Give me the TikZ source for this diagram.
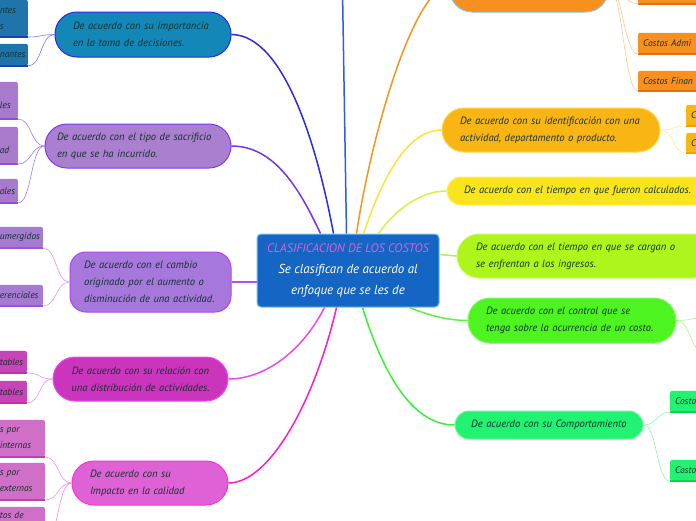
\documentclass[tikz,border=0pt]{standalone}
\usepackage{fontspec}
\setmainfont{PT Sans}
\usetikzlibrary{calc}
\definecolor{ink}{HTML}{12332A}
\definecolor{cRoot}{HTML}{1565C4}
\definecolor{cRootL}{HTML}{78C0F0}
\definecolor{cTitle}{HTML}{E060D0}
\definecolor{cTeal}{HTML}{1287B8}
\definecolor{cTealL}{HTML}{2A2AE8}
\definecolor{cTealLf}{HTML}{1F74AC}
\definecolor{cTealU}{HTML}{1F3FAA}
\definecolor{cSacr}{HTML}{AB7FCF}
\definecolor{cSacrL}{HTML}{7A3CF0}
\definecolor{cSacrLf}{HTML}{A87ACB}
\definecolor{cSacrU}{HTML}{8E50D0}
\definecolor{cCamb}{HTML}{A678DC}
\definecolor{cCambL}{HTML}{B440F0}
\definecolor{cCambLf}{HTML}{A57BD2}
\definecolor{cCambU}{HTML}{A050E0}
\definecolor{cRel}{HTML}{CB35BD}
\definecolor{cRelL}{HTML}{F048F0}
\definecolor{cRelLf}{HTML}{C744B9}
\definecolor{cRelU}{HTML}{C030B0}
\definecolor{cCal}{HTML}{DE62D6}
\definecolor{cCalL}{HTML}{FF30D0}
\definecolor{cCalLf}{HTML}{D06FC8}
\definecolor{cCalU}{HTML}{C040B0}
\definecolor{cFunc}{HTML}{F7901E}
\definecolor{cFuncL}{HTML}{7EC8EE}
\definecolor{cFuncU}{HTML}{E07010}
\definecolor{cIdf}{HTML}{F9B514}
\definecolor{cIdfL}{HTML}{FFD84A}
\definecolor{cIdfU}{HTML}{F0A000}
\definecolor{cTime}{HTML}{FAE51C}
\definecolor{cTimeL}{HTML}{FFF060}
\definecolor{cIng}{HTML}{AEF51C}
\definecolor{cIngL}{HTML}{C8FA70}
\definecolor{cCtrl}{HTML}{4DF41F}
\definecolor{cCtrlL}{HTML}{80F860}
\definecolor{cComp}{HTML}{22F272}
\definecolor{cCompL}{HTML}{70F8A0}
\definecolor{cCompU}{HTML}{10D050}
% connector colours
\definecolor{lTop}{HTML}{2E5BF0}
\definecolor{lTeal}{HTML}{2B2BE6}
\definecolor{lSacr}{HTML}{7A33EA}
\definecolor{lFunc}{HTML}{F7941D}
\definecolor{lIdf}{HTML}{FFE13A}
\definecolor{lTime}{HTML}{D6F046}
\definecolor{lIng}{HTML}{B2F048}
\definecolor{lCtrl}{HTML}{60F040}
\definecolor{lComp}{HTML}{3CEE3C}
\definecolor{lCal}{HTML}{FF1AC8}
\definecolor{lRel}{HTML}{EE48EE}
\definecolor{lCamb}{HTML}{B850F0}
\definecolor{tTeal}{HTML}{7C7CF2}
\definecolor{tSacr}{HTML}{A07CF2}
\definecolor{tCamb}{HTML}{D39CF5}
\definecolor{tRel}{HTML}{F58CF5}
\definecolor{tCal}{HTML}{FF88E0}
\definecolor{tFunc}{HTML}{FFC890}
\definecolor{tIdf}{HTML}{FFE890}
\definecolor{tCtrl}{HTML}{A8F890}
\definecolor{tComp}{HTML}{90F8A8}

\begin{document}
\begin{tikzpicture}[
  x=1pt, y=-1pt,
  branch/.style={
    rounded corners=22pt, draw, line width=1pt, align=left,
    inner xsep=18pt, inner ysep=0pt, text=ink, fill=#1,
    font=\fontsize{10.6}{17}\selectfont\itshape,
  },
  leaf/.style={rounded corners=2pt, inner sep=3pt, align=left, text=ink, fill=#1,
               font=\fontsize{9.5}{16}\selectfont\itshape},
  link/.style={line width=1.5pt, color=#1},
  twig/.style={line width=0.6pt, color=#1},
  under/.style={line width=1.2pt, color=#1},
]
  \useasboundingbox (0,0) rectangle (696,520);
  \fill[white] (0,0) rectangle (696,520);

  % --- centre ---
  \node[draw=cRootL, fill=cRoot, line width=1pt, rounded corners=4pt,
        minimum width=182pt, minimum height=73pt, inner sep=0pt, align=center,
        font=\fontsize{13}{21}\selectfont\itshape] (root) at (348,270.5)
    {{\fontsize{12.3}{21}\selectfont\textcolor{cTitle}{CLASIFICACION DE LOS COSTOS}}\\
     \textcolor{white}{Se clasifican de acuerdo al}\\
     \textcolor{white}{enfoque que se les de}};

  % --- left branches ---
  \node[branch=cTeal, draw=cTealL, text width=140pt, minimum height=45pt] (teal) at (143,34.5)
    {De acuerdo con su Importancia\\en la toma de decisiones.};
  \node[branch=cSacr, draw=cSacrL, text width=162pt, inner xsep=12pt, minimum height=44pt] (sacr) at (138,146)
    {De acuerdo con el tipo de sacrificio\\en que se ha incurrido.};
  \node[branch=cCamb, draw=cCambL, rounded corners=16pt, text width=133pt, inner xsep=14pt,
        minimum height=60pt] (camb) at (150.5,282)
    {De acuerdo con el cambio\\originado por el aumento o\\disminución de una actividad.};
  \node[branch=cRel, draw=cRelL, text width=145pt, inner xsep=15pt, align=center, minimum height=44pt] (rel) at (140.5,379)
    {De acuerdo con su relación con\\una distribución de actividades.};
  \node[branch=cCal, draw=cCalL, text width=120pt, minimum height=44pt] (cal) at (150,483)
    {De acuerdo con su\\Impacto en la calidad};

  % --- right branches ---
  \node[branch=cFunc, draw=cFuncL, minimum width=158pt, minimum height=52pt] (func) at (529,-14) {};
  \node[branch=cIdf, draw=cIdfL, text width=182pt, minimum height=44pt] (idf) at (551,130)
    {De acuerdo con su identificación con una\\actividad, departamento o producto.};
  \node[branch=cTime, draw=cTimeL, rounded corners=14pt, text width=236pt, inner xsep=17pt,
        minimum height=28pt] (time) at (582,191)
    {De acuerdo con el tiempo en que fueron calculados.};
  \node[branch=cIng, draw=cIngL, text width=220pt, inner xsep=19pt, minimum height=44pt] (ing) at (586,256)
    {De acuerdo con el tiempo en que se cargan o\\se enfrentan a los ingresos.};
  \node[branch=cCtrl, draw=cCtrlL, text width=172pt, minimum height=45pt] (ctrl) at (572,320.5)
    {De acuerdo con el control que se\\tenga sobre la ocurrencia de un costo.};
  \node[branch=cComp, draw=cCompL, rounded corners=14pt, text width=164pt, inner xsep=12pt,
        align=center, minimum height=28pt] (comp) at (549,425)
    {De acuerdo con su Comportamiento};

  \coordinate (up) at (342,-40);
  \coordinate (ctrlA) at (704,318);
  \coordinate (ctrlB) at (704,352);

  % --- connectors from the centre ---
  \draw[link=lTop] ($(root.north west)+(90,0)$) -- (up);
  \draw[link=lTeal] ($(root.north west)+(77,0)$) .. controls (318,150) and (285,35) .. (teal.east);
  \draw[link=lSacr] ($(root.north west)+(64,0)$) .. controls (300,190) and (275,146) .. (sacr.east);
  \draw[link=lFunc] ($(root.north west)+(100,0)$) .. controls (372,130) and (415,-14) .. (func.west);
  \draw[link=lIdf] ($(root.north west)+(107,0)$) .. controls (385,170) and (410,130) .. (idf.west);
  \draw[link=lTime] ($(root.north west)+(122,0)$) .. controls (395,210) and (420,191) .. (time.west);
  \draw[link=lIng] ($(root.north east)+(0,21)$) .. controls (448,255) .. (ing.west);
  \draw[link=lCtrl] ($(root.south west)+(153,0)$) .. controls (430,316) and (450,320.5) .. (ctrl.west);
  \draw[link=lComp] ($(root.south west)+(106,0)$) .. controls (385,380) and (415,425) .. (comp.west);
  \draw[link=lCal] ($(root.south west)+(80,0)$) .. controls (315,400) and (270,483) .. (cal.east);
  \draw[link=lRel] ($(root.south west)+(68,0)$) .. controls (300,355) and (262,379) .. (rel.east);
  \draw[link=lCamb] (root.west |- camb.east) -- (camb.east);

  % --- leaves on the left ---
  \foreach \n/\r/\t/\b/\txt/\f/\u in {
      tA/28/0/37/{ntes\\s}/cTealLf/cTealU,
      tB/28/44/66/{nantes}/cTealLf/cTealU,
      pA/18/82/119/{\mbox{}\\les}/cSacrLf/cSacrU,
      pB/18/127/164/{\mbox{}\\ad}/cSacrLf/cSacrU,
      pC/18/179/203/{ales}/cSacrLf/cSacrU,
      qA/43/227/248/{umergidos}/cCambLf/cCambU,
      qB/43/285/306/{erenciales}/cCambLf/cCambU,
      mA/27/351/373/{tables}/cRelLf/cRelU,
      mB/27/381/403/{tables}/cRelLf/cRelU,
      kA/45/420/457/{s por\\internas}/cCalLf/cCalU,
      kB/45/463/500/{s por\\externas}/cCalLf/cCalU,
      kC/45/507/540/{tos de\\\mbox{}}/cCalLf/cCalU%
  }{
    \pgfmathsetmacro\tw{\r-3}
    \pgfmathsetmacro\hh{\b-\t}
    \node[leaf=\f, text width=\tw pt, minimum height=\hh pt, anchor=south east] (\n) at (\r,\b) {\txt};
    \draw[under=\u] (\n.south west) -- (\n.south east);
  }

  % --- leaves on the right ---
  \foreach \n/\l/\t/\b/\txt/\f/\u in {
      oA/638/-20/4/{}/cFunc/cFuncU,
      oB/638/33/54/{Costos Admi}/cFunc/cFuncU,
      oC/638/71/91/{Costos Finan}/cFunc/cFuncU,
      iA/686/105/126/{C}/cIdf/cIdfU,
      iB/686/133/153/{C}/cIdf/cIdfU,
      cA/670/391/412/{Costo}/cComp/cCompU,
      cB/670/460/481/{Costo}/cComp/cCompU%
  }{
    \pgfmathsetmacro\hh{\b-\t}
    \node[leaf=\f, inner xsep=5pt, text width=80pt, minimum height=\hh pt, anchor=south west] (\n) at (\l,\b) {\txt};
    \draw[under=\u] (\n.south west) -- (\n.south east);
  }

  % --- branch to leaf twigs ---
  \foreach \p/\c/\col in {teal/tA/tTeal, teal/tB/tTeal, sacr/pA/tSacr, sacr/pB/tSacr, sacr/pC/tSacr,
                          camb/qA/tCamb, camb/qB/tCamb, rel/mA/tRel, rel/mB/tRel,
                          cal/kA/tCal, cal/kB/tCal, cal/kC/tCal}{
    \draw[twig=\col] (\p.west) .. controls +(-14,0) and +(14,0) .. (\c.south east);
  }
  \foreach \p/\c/\col in {func/oA/tFunc, func/oB/tFunc, func/oC/tFunc, idf/iA/tIdf, idf/iB/tIdf,
                          ctrl/ctrlA/tCtrl, ctrl/ctrlB/tCtrl, comp/cA/tComp, comp/cB/tComp}{
    \draw[twig=\col] (\p.east) .. controls +(14,0) and +(-14,0) .. (\c.south west);
  }
\end{tikzpicture}
\end{document}
